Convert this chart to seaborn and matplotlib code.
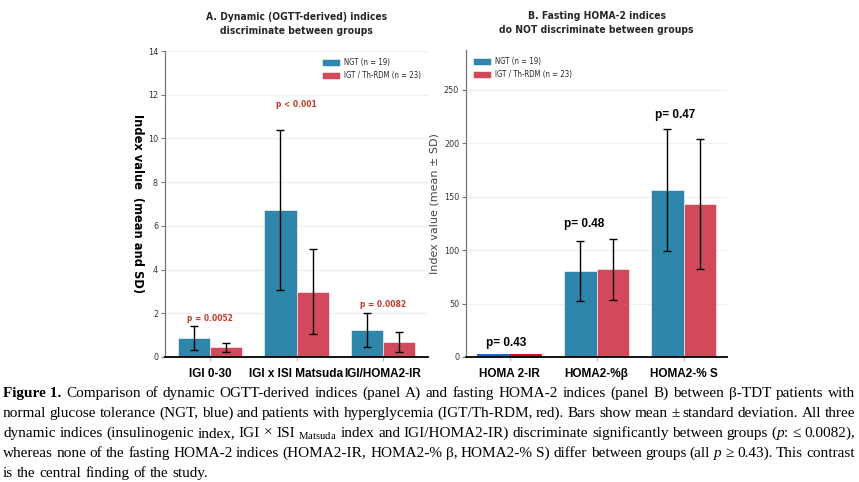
import numpy as np
import pandas as pd
import matplotlib
matplotlib.use("Agg")
import matplotlib.pyplot as plt
from matplotlib import font_manager as fm
import seaborn as sns

# ---------------- data ----------------
groups = ["NGT (n = 19)", "IGT / Th-RDM (n = 23)"]

cats_a = ["IGI 0-30", "IGI x ISI Matsuda", "IGI/HOMA2-IR"]
ngt_a = [0.87, 6.72, 1.24]
ngt_a_sd = [0.54, 3.66, 0.76]
igt_a = [0.44, 2.99, 0.69]
igt_a_sd = [0.22, 1.93, 0.44]
p_a = ["p = 0.0052", "p < 0.001", "p = 0.0082"]
p_a_y = [1.75, 11.55, 2.4]

cats_b = ["HOMA 2-IR", "HOMA2-%\u03b2", "HOMA2-% S"]
ngt_b = [2.8, 80.0, 155.7]
ngt_b_sd = [0.0, 28.0, 57.0]
igt_b = [2.8, 82.1, 143.0]
igt_b_sd = [0.0, 28.5, 60.7]
p_b = ["p= 0.43", "p= 0.48", "p= 0.47"]
p_b_y = [13, 124, 226]

BLUE = "#2E86AB"
RED = "#D1495B"

sns.set_theme(style="white")
plt.rcParams["font.family"] = ["DejaVu Sans"]
SANS = ["Liberation Sans", "DejaVu Sans"]
SERIF = ["Liberation Serif", "DejaVu Serif"]
plt.rcParams["mathtext.fontset"] = "custom"
plt.rcParams["mathtext.rm"] = "Liberation Serif"
plt.rcParams["mathtext.it"] = "Liberation Serif:italic"

# condensed DejaVu (if installed) for the narrow labels
COND = fm.FontProperties(family="DejaVu Sans", stretch="condensed")
COND_B = fm.FontProperties(family="DejaVu Sans", stretch="condensed", weight="bold")


def cp(size, bold=False):
    p = (COND_B if bold else COND).copy()
    p.set_size(size)
    return p


W, H = 859, 482
fig = plt.figure(figsize=(W / 100, H / 100), dpi=100)
axA = fig.add_axes([165 / W, 1 - 357 / H, (428 - 165) / W, (357 - 51) / H])
axB = fig.add_axes([466 / W, 1 - 357 / H, (727 - 466) / W, (357 - 50) / H])


def panel(ax, cats, ngt, ngt_sd, igt, igt_sd):
    df = pd.DataFrame({
        "cat": cats * 2,
        "val": ngt + igt,
        "grp": [groups[0]] * len(cats) + [groups[1]] * len(cats),
    })
    sns.barplot(data=df, x="cat", y="val", hue="grp", palette=[BLUE, RED],
                errorbar=None, width=0.74, saturation=1, ax=ax,
                edgecolor="white", linewidth=0.4)
    sds = ngt_sd + igt_sd
    vals = ngt + igt
    patches = list(ax.patches)[:len(vals)]
    xs = [p.get_x() + p.get_width() / 2 for p in patches]
    for x, v, s in zip(xs, vals, sds):
        if s > 0:
            ax.errorbar([x], [v], yerr=[s], fmt="none", ecolor="black",
                        elinewidth=1.0, capsize=3, capthick=1.0, zorder=5)
    return patches, xs


pa, xa = panel(axA, cats_a, ngt_a, ngt_a_sd, igt_a, igt_a_sd)
pb, xb = panel(axB, cats_b, ngt_b, ngt_b_sd, igt_b, igt_b_sd)
# tiny HOMA 2-IR bars shown in brighter colours in the reference
pb[0].set_facecolor("#2563D9")
pb[3].set_facecolor("#C8141E")
pb[0].set_edgecolor("none")
pb[3].set_edgecolor("none")

for ax in (axA, axB):
    ax.set_xlabel("")
    sns.despine(ax=ax)
    ax.spines["bottom"].set_color("black")
    ax.spines["bottom"].set_linewidth(1.3)
    ax.spines["left"].set_color("#777777")
    ax.spines["left"].set_linewidth(0.9)
    ax.grid(axis="y", color="#eeeeee", linewidth=0.8)
    ax.set_axisbelow(True)
    ax.tick_params(axis="y", left=True, length=3, width=0.8, color="#777777",
                   labelcolor="#333333", pad=2)
    ax.tick_params(axis="x", bottom=True, length=3, width=0.8, color="#bbbbbb", pad=5)

axA.set_xlim(-0.52, 2.52)
axA.set_ylim(0, 14)
axA.set_yticks(np.arange(0, 15, 2))
axB.set_xlim(-0.5, 2.5)
axB.set_ylim(0, 287)
axB.set_yticks(np.arange(0, 251, 50))
for ax in (axA, axB):
    for t in ax.get_yticklabels():
        t.set_fontproperties(cp(6.5))
        t.set_color("#333333")
    for t in ax.get_xticklabels():
        t.set_family(SANS)
        t.set_fontweight("bold")
        t.set_fontsize(8.5)
        t.set_color("black")

axA.set_title("A. Dynamic (OGTT-derived) indices\ndiscriminate between groups",
              fontproperties=cp(7.4, True), pad=12, linespacing=1.5)
axB.set_title("B. Fasting HOMA-2 indices\ndo NOT discriminate between groups",
              fontproperties=cp(7.4, True), pad=12, linespacing=1.5)

axA.set_ylabel("Index value  (mean and SD)", rotation=-90,
               fontproperties=cp(9.2, True), labelpad=12, color="black")
axB.set_ylabel("Index value (mean \u00b1 SD)", fontsize=8.0, color="#444444",
               labelpad=3)

legA = axA.legend(loc="upper right", frameon=False,
                  handlelength=2.3, handleheight=0.9, handletextpad=0.5,
                  labelspacing=0.55, borderaxespad=0.5, prop=cp(5.6))
legB = axB.legend(loc="upper left", frameon=False,
                  handlelength=2.3, handleheight=0.9, handletextpad=0.5,
                  labelspacing=0.55, borderaxespad=0.5, prop=cp(5.6))

for i, (txt, y) in enumerate(zip(p_a, p_a_y)):
    axA.text(i, y, txt, ha="center", va="center", color="#C0392B",
             fontproperties=cp(6.0, True))
p_b_x = [-0.04, -0.14, -0.1]
for i, (txt, y) in enumerate(zip(p_b, p_b_y)):
    axB.text(i + p_b_x[i], y, txt, ha="center", va="center", color="black",
             fontsize=8.5, fontweight="bold", family=SANS)

# ---------------- caption (justified) ----------------
N = "n"; B = "b"; I = "i"
cap_lines = [
    [[("Figure 1.", B)], "Comparison of dynamic OGTT-derived indices (panel A) and fasting HOMA-2 indices (panel B) between \u03b2-TDT patients with"],
    ["normal glucose tolerance (NGT, blue) and patients with hyperglycemia (IGT/Th-RDM, red). Bars show mean \u00b1 standard deviation. All three"],
    ["dynamic indices (insulinogenic index, IGI \u00d7 ISI", [("$_{\\mathrm{Matsuda}}$", N)],
     "index and IGI/HOMA2-IR) discriminate significantly between groups",
     [("(", N), ("p", I), (":", N)], "\u2264 0.0082),"],
    ["whereas none of the fasting HOMA-2 indices (HOMA2-IR, HOMA2-% \u03b2, HOMA2-% S) differ between groups (all",
     [("p", I)], "\u2265 0.43). This contrast"],
    ["is the central finding of the study."],
]
cap_size = 11.0
fig.canvas.draw()
rend = fig.canvas.get_renderer()


def style_kw(s):
    kw = dict(fontsize=cap_size, family=SERIF, color="black")
    if s == B:
        kw["fontweight"] = "bold"
    if s == I:
        kw["style"] = "italic"
    return kw


def measure(text, s):
    t = fig.text(0, 0, text, **style_kw(s))
    w = t.get_window_extent(rend).width
    t.remove()
    return w


space_w = measure("a b", N) - measure("ab", N)
x0, x1 = 3.0, 855.0
baselines = [397, 417, 437, 457, 477]
for li, line in enumerate(cap_lines):
    words = []
    for item in line:
        if isinstance(item, str):
            for w in item.split(" "):
                words.append([(w, N)])
        else:
            words.append(item)
    widths = [sum(measure(t, s) for t, s in wd) for wd in words]
    if li < len(cap_lines) - 1 and len(words) > 1:
        gap = (x1 - x0 - sum(widths)) / (len(words) - 1)
    else:
        gap = space_w
    x = x0
    yb = 1 - baselines[li] / H
    for wd, ww in zip(words, widths):
        xx = x
        for t, s in wd:
            fig.text(xx / W, yb, t, ha="left", va="baseline", **style_kw(s))
            xx += measure(t, s)
        x += ww + gap

fig.savefig("out.png", dpi=100)
